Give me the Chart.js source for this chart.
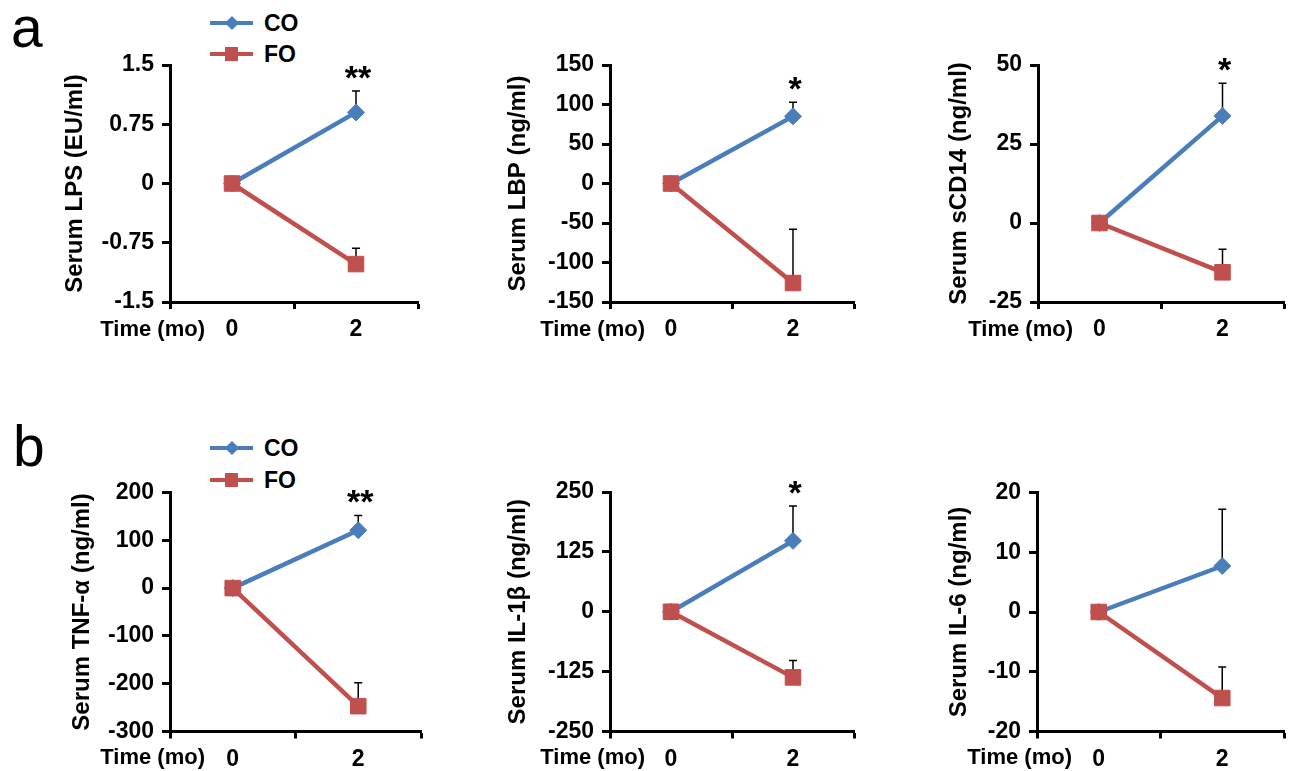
<!DOCTYPE html>
<html>

<head>
    <title>Serum markers CO vs FO</title>
    <!-- Chart JS -->
    <script src="https://cdn.jsdelivr.net/npm/chart.js@4.4.0/dist/chart.umd.min.js"></script>
    <style>
        body { margin: 0; background: #fff; font-family: "Liberation Sans", Arial, sans-serif; }
        #wrap { position: relative; width: 1298px; height: 771px; overflow: hidden; }
        .box { position: absolute; }
        .letter { position: absolute; font-size: 57px; line-height: 1; color: #000; }
        .legend { position: absolute; left: 210px; width: 110px; height: 70px; font-weight: bold; font-size: 23px; }
        .row { position: absolute; left: 0; width: 110px; height: 30px; }
        .row .ln { position: absolute; left: 0; top: 13px; width: 43px; height: 4px; }
        .row .dia { position: absolute; left: 17px; top: 10px; width: 10px; height: 10px; transform: rotate(45deg); }
        .row .sq { position: absolute; left: 15px; top: 8px; width: 13px; height: 14px; }
        .row span { position: absolute; left: 54px; top: 0; line-height: 30px; }
    </style>
</head>

<body>
    <div id="wrap">
        <div class="letter" style="left:11px; top:-1px;">a</div>
        <div class="letter" style="left:13px; top:418px;">b</div>

        <div class="legend" style="top:8px;">
            <div class="row" style="top:0px;"><div class="ln" style="background:#4a7ebb"></div><div class="dia" style="background:#4a7ebb"></div><span>CO</span></div>
            <div class="row" style="top:31px;"><div class="ln" style="background:#c0504d"></div><div class="sq" style="background:#c0504d"></div><span>FO</span></div>
        </div>
        <div class="legend" style="top:433px;">
            <div class="row" style="top:0px;"><div class="ln" style="background:#4a7ebb"></div><div class="dia" style="background:#4a7ebb"></div><span>CO</span></div>
            <div class="row" style="top:32px;"><div class="ln" style="background:#c0504d"></div><div class="sq" style="background:#c0504d"></div><span>FO</span></div>
        </div>

        <div class="box" style="left:0px; top:0px;"><canvas id="c1" width="436" height="350"></canvas></div>
        <div class="box" style="left:430px; top:0px;"><canvas id="c2" width="436" height="350"></canvas></div>
        <div class="box" style="left:860px; top:0px;"><canvas id="c3" width="436" height="350"></canvas></div>
        <div class="box" style="left:0px; top:420px;"><canvas id="c4" width="436" height="351"></canvas></div>
        <div class="box" style="left:430px; top:420px;"><canvas id="c5" width="436" height="351"></canvas></div>
        <div class="box" style="left:860px; top:420px;"><canvas id="c6" width="436" height="351"></canvas></div>
    </div>
    <script>

        // time points (months)
        var times = ['0', '2'];

        // change from baseline, mean and upper error (SEM)
        var lpsCO = [0, 0.9], lpsCOErr = [0, 0.27];
        var lpsFO = [0, -1.02], lpsFOErr = [0, 0.2];

        var lbpCO = [0, 85], lbpCOErr = [0, 18];
        var lbpFO = [0, -126], lbpFOErr = [0, 68];

        var cd14CO = [0, 33.9], cd14COErr = [0, 10.3];
        var cd14FO = [0, -15.6], cd14FOErr = [0, 7.3];

        var tnfCO = [0, 121], tnfCOErr = [0, 31];
        var tnfFO = [0, -247], tnfFOErr = [0, 49];

        var il1CO = [0, 148], il1COErr = [0, 73];
        var il1FO = [0, -137], il1FOErr = [0, 35];

        var il6CO = [0, 7.7], il6COErr = [0, 9.5];
        var il6FO = [0, -14.4], il6FOErr = [0, 5.2];

        var titles = ['Serum LPS (EU/ml)', 'Serum LBP (ng/ml)', 'Serum sCD14 (ng/ml)',
            'Serum TNF-\u03b1 (ng/ml)', 'Serum IL-1\u03b2 (ng/ml)', 'Serum IL-6 (ng/ml)'];
        var yMin = [-1.5, -150, -25, -300, -250, -20];
        var yMax = [1.5, 150, 50, 200, 250, 20];
        var yStep = [0.75, 50, 25, 100, 125, 10];
        var stars = ['**', '*', '*', '**', '*', ''];

        var BLUE = '#4a7ebb';
        var RED = '#c0504d';

        // layout of each panel inside its canvas
        var layouts = [
            { id: 'c1', axisX: 170, right: 418, top: 65, bottom: 302, h: 350, titleX: 75 },
            { id: 'c2', axisX: 180, right: 429, top: 65, bottom: 302, h: 350, titleX: 88 },
            { id: 'c3', axisX: 178, right: 428, top: 65, bottom: 302, h: 350, titleX: 99 },
            { id: 'c4', axisX: 170, right: 421, top: 72.5, bottom: 311.5, h: 351, titleX: 82 },
            { id: 'c5', axisX: 180, right: 429, top: 72, bottom: 311.5, h: 351, titleX: 88 },
            { id: 'c6', axisX: 177, right: 428, top: 72.5, bottom: 311.5, h: 351, titleX: 99 }
        ];

        var series = [
            [lpsCO, lpsCOErr, lpsFO, lpsFOErr],
            [lbpCO, lbpCOErr, lbpFO, lbpFOErr],
            [cd14CO, cd14COErr, cd14FO, cd14FOErr],
            [tnfCO, tnfCOErr, tnfFO, tnfFOErr],
            [il1CO, il1COErr, il1FO, il1FOErr],
            [il6CO, il6COErr, il6FO, il6FOErr]
        ];

        Chart.defaults.font.family = '"Liberation Sans", Arial, sans-serif';
        Chart.defaults.font.weight = 'bold';
        Chart.defaults.color = '#000';

        // error bars (upper only), significance stars and "Time (mo)" label
        var extras = {
            id: 'extras',
            beforeDatasetsDraw(chart, args, opts) {
                var ctx = chart.ctx, xs = chart.scales.x, ys = chart.scales.y;
                ctx.save();
                ctx.strokeStyle = '#000';
                ctx.lineWidth = 1.5;
                opts.errors.forEach(function (errs, di) {
                    var vals = chart.data.datasets[di].data;
                    errs.forEach(function (e, i) {
                        if (!e) return;
                        var px = xs.getPixelForValue(i);
                        var y0 = ys.getPixelForValue(vals[i]);
                        var y1 = ys.getPixelForValue(vals[i] + e);
                        ctx.beginPath();
                        ctx.moveTo(px, y0); ctx.lineTo(px, y1);
                        ctx.moveTo(px - 4, y1); ctx.lineTo(px + 4, y1);
                        ctx.stroke();
                    });
                });
                ctx.restore();
            },
            afterDraw(chart, args, opts) {
                var ctx = chart.ctx, xs = chart.scales.x, ys = chart.scales.y;
                var area = chart.chartArea;
                ctx.save();
                ctx.fillStyle = '#000';
                ctx.font = 'bold 22px "Liberation Sans", Arial, sans-serif';
                ctx.textAlign = 'right';
                ctx.textBaseline = 'middle';
                ctx.fillText('Time (mo)', area.left + 35, area.bottom + opts.labelOff);
                if (opts.star) {
                    var co = chart.data.datasets[0].data;
                    var top = ys.getPixelForValue(co[1] + opts.errors[0][1]) - 21;
                    ctx.font = 'bold 34px "Liberation Sans", Arial, sans-serif';
                    ctx.textAlign = 'center';
                    ctx.textBaseline = 'alphabetic';
                    ctx.fillText(opts.star, xs.getPixelForValue(1) + 2, top + 19);
                }
                ctx.restore();
            }
        };

        layouts.forEach(function (L, k) {
            var s = series[k];
            var ctx = document.getElementById(L.id).getContext('2d');
            new Chart(ctx, {
                type: 'line',
                data: {
                    labels: times,
                    datasets: [{
                        label: 'CO',
                        data: s[0],
                        borderColor: BLUE,
                        backgroundColor: BLUE,
                        borderWidth: 4.5,
                        pointStyle: 'rectRot',
                        pointRadius: 8.5,
                        pointBorderWidth: 1,
                        order: 1
                    }, {
                        label: 'FO',
                        data: s[2],
                        borderColor: RED,
                        backgroundColor: RED,
                        borderWidth: 4.5,
                        pointStyle: 'rect',
                        pointRadius: 11,
                        pointBorderWidth: 1,
                        order: 0
                    }]
                },
                plugins: [extras],
                options: {
                    responsive: false,
                    animation: false,
                    devicePixelRatio: 1,
                    layout: { padding: { left: 0, right: 436 - L.right, top: L.top, bottom: 0 } },
                    plugins: {
                        legend: { display: false },
                        tooltip: { enabled: false },
                        extras: { errors: [s[1], s[3]], star: stars[k], labelOff: L.h - L.bottom > 44 ? 28 : 26.5 }
                    },
                    scales: {
                        x: {
                            type: 'category',
                            offset: true,
                            ticks: { color: '#000', font: { size: 23, weight: 'bold' }, padding: 7, maxRotation: 0 },
                            grid: { offset: true, drawOnChartArea: false, tickLength: 7, tickWidth: 3, color: '#000' },
                            border: { display: true, color: '#000', width: 3 },
                            afterFit: function (sc) { sc.height = L.h - L.bottom; }
                        },
                        y: {
                            min: yMin[k],
                            max: yMax[k],
                            ticks: {
                                stepSize: yStep[k], color: '#000', font: { size: 23, weight: 'bold' }, padding: 8,
                                callback: function (v) { return String(+v.toFixed(2)); }
                            },
                            grid: { drawOnChartArea: false, tickLength: 8, tickWidth: 3, color: '#000' },
                            border: { display: true, color: '#000', width: 3 },
                            title: {
                                display: true, text: titles[k], color: '#000',
                                font: { size: 24, weight: 'bold' }, padding: { top: L.titleX - 14.4, bottom: 0 }
                            },
                            afterFit: function (sc) { sc.width = L.axisX; }
                        }
                    }
                }
            });
        });
    </script>

</body>

</html>
